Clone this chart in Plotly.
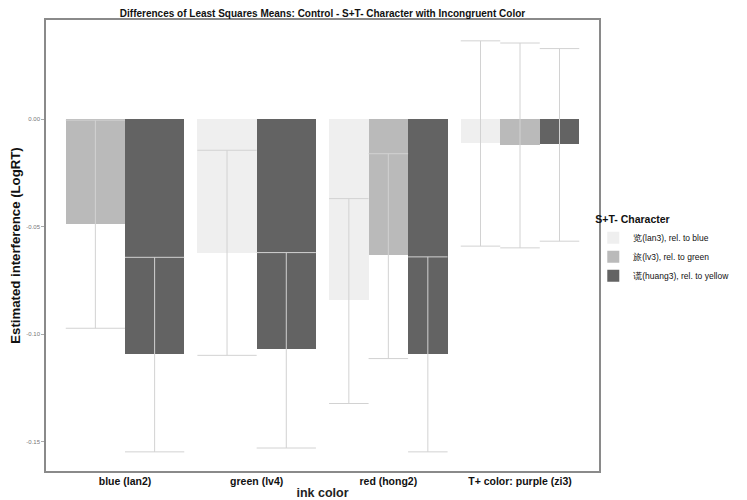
import plotly.graph_objects as go

# ---- data ----
categories = ["blue (lan2)", "green (lv4)", "red (hong2)", "T+ color: purple (zi3)"]
series_names = ["览(lan3), rel. to blue", "旅(lv3), rel. to green", "谎(huang3), rel. to yellow"]
lan3_mean = [None, -0.0620, -0.0842, -0.0112]
lan3_lo = [None, -0.1098, -0.1322, -0.0590]
lan3_hi = [None, -0.0144, -0.0369, 0.0365]
lv3_mean = [-0.0488, None, -0.0633, -0.0118]
lv3_lo = [-0.0972, None, -0.1113, -0.0598]
lv3_hi = [-0.0004, None, -0.0160, 0.0355]
huang3_mean = [-0.1093, -0.1067, -0.1090, -0.0113]
huang3_lo = [-0.1547, -0.1529, -0.1547, -0.0567]
huang3_hi = [-0.0642, -0.0620, -0.0640, 0.0329]
ytick_vals = [0.0, -0.05, -0.10, -0.15]
ytick_text = ["0.00", "-0.05", "-0.10", "-0.15"]

means = [lan3_mean, lv3_mean, huang3_mean]
los = [lan3_lo, lv3_lo, huang3_lo]
his = [lan3_hi, lv3_hi, huang3_hi]
fills = ["#efefef", "#bababa", "#636363"]
err_color = "#d2d2d2"
DODGE = 0.9

# dodge positions (like ggplot position_dodge with missing groups)
layout_pos = {}
for g in range(len(categories)):
    present = [s for s in range(len(means)) if means[s][g] is not None]
    w = DODGE / len(present)
    for k, s in enumerate(present):
        layout_pos[(s, g)] = (-DODGE / 2 + k * w, w)

fig = go.Figure()
for s in range(len(means)):
    xs, ys, offs, ws = [], [], [], []
    for g in range(len(categories)):
        if means[s][g] is None:
            continue
        off, w = layout_pos[(s, g)]
        xs.append(g); ys.append(means[s][g]); offs.append(off); ws.append(w)
    fig.add_trace(go.Bar(
        x=xs, y=ys, offset=offs, width=ws, name=series_names[s],
        marker=dict(color=fills[s], line=dict(width=0)),
    ))

for s in range(len(means)):
    ex, ey = [], []
    for g in range(len(categories)):
        if means[s][g] is None:
            continue
        off, w = layout_pos[(s, g)]
        left = g + off
        right = left + w
        c = left + w / 2
        lo, hi = los[s][g], his[s][g]
        ex += [c, c, None, left, right, None, left, right, None]
        ey += [lo, hi, None, hi, hi, None, lo, lo, None]
    fig.add_trace(go.Scatter(x=ex, y=ey, mode="lines", showlegend=False,
                             hoverinfo="skip",
                             line=dict(color=err_color, width=1)))

font_family = "Liberation Sans, Arial, sans-serif"
# page body has an 8px margin, so the figure is 8px smaller than the window
fig.update_layout(
    width=739, height=492,
    margin=dict(l=38, r=148, t=12, b=29, autoexpand=False),
    paper_bgcolor="white", plot_bgcolor="white",
    barmode="overlay", bargap=0,
    font=dict(family=font_family, color="#000000"),
    title=dict(text="<b>Differences of Least Squares Means: Control - S+T- Character with Incongruent Color</b>",
               x=0.5, xref="paper", xanchor="center", y=0.988, yref="container", yanchor="middle",
               font=dict(size=10, color="#111111")),
    showlegend=True,
    legend=dict(title=dict(text="<b>S+T- Character</b>", font=dict(size=10.5, color="#111111")),
                xref="container", yref="container",
                x=0.792, xanchor="left", y=0.508, yanchor="middle",
                font=dict(size=8.5, color="#111111"), tracegroupgap=0,
                itemwidth=30,
                bgcolor="rgba(0,0,0,0)"),
)
fig.update_xaxes(
    range=[-0.6, 3.6], tickmode="array", tickvals=list(range(len(categories))),
    ticktext=["<b>%s</b>" % c for c in categories],
    tickfont=dict(size=10.5, color="#111111"), ticks="",
    showgrid=False, zeroline=False, automargin=False,
    showline=True, mirror=True, linecolor="#8a8a8a", linewidth=1.5,
    title=dict(text="<b>ink color</b>", font=dict(size=12.5, color="#222222"), standoff=2),
)
fig.update_yaxes(
    range=[-0.1636, 0.0462], tickmode="array", tickvals=ytick_vals, ticktext=ytick_text,
    tickfont=dict(size=6, color="#777777"), ticks="outside", ticklen=3, tickcolor="#aaaaaa",
    showgrid=False, zeroline=False, automargin=False,
    showline=True, mirror=True, linecolor="#8a8a8a", linewidth=1.5,
    title=dict(text="<b>Estimated interference (LogRT)</b>", font=dict(size=13.2, color="#111111"), standoff=3),
)
fig.write_html("out.html")
